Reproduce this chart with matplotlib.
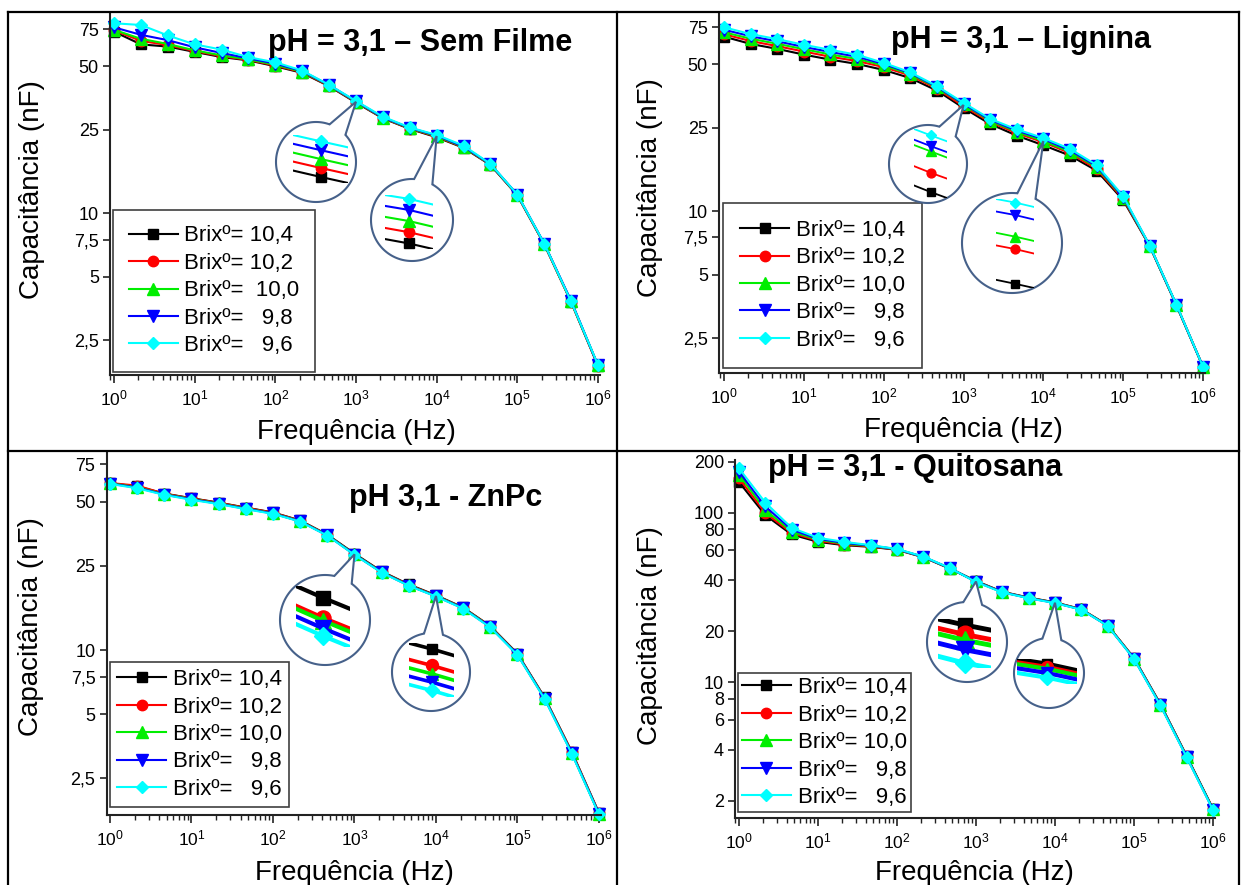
import numpy as np
import matplotlib
matplotlib.use("Agg")
import matplotlib.pyplot as plt
from matplotlib.lines import Line2D
from matplotlib.patches import PathPatch
from matplotlib.path import Path
from matplotlib.ticker import (FixedLocator, FixedFormatter, NullLocator, NullFormatter,
                               LogLocator, LogFormatterMathtext)

plt.rcParams["font.family"] = ["Liberation Sans", "DejaVu Sans"]
plt.rcParams["mathtext.fontset"] = "custom"
plt.rcParams["mathtext.rm"] = "Liberation Sans"
plt.rcParams["mathtext.it"] = "Liberation Sans:italic"
plt.rcParams["mathtext.bf"] = "Liberation Sans:bold"

W, H, DPI = 1243, 885, 100

# ---------------------------------------------------------------- data
FREQ_HZ = [1, 2.154, 4.642, 10, 21.54, 46.42, 100, 215.4, 464.2, 1000,
           2154, 4642, 10000, 21544, 46416, 100000, 215443, 464159, 1000000]

BRIX = ["10,4", "10,2", "10,0", "9,8", "9,6"]

# Capacitance (nF) - pH 3,1 without film
sem_filme_104 = [73.0, 63.5, 62.0, 58.5, 55.3, 53.3, 50.0, 46.5, 40.2, 33.6,
                 28.3, 25.2, 23.0, 20.5, 17.0, 12.2, 7.15, 3.80, 1.89]
sem_filme_102 = [74.0, 66.0, 63.0, 59.0, 55.8, 53.6, 50.4, 46.8, 40.4, 33.75,
                 28.4, 25.3, 23.15, 20.6, 17.05, 12.2, 7.15, 3.80, 1.89]
sem_filme_100 = [74.5, 67.5, 63.8, 59.5, 56.3, 53.9, 50.8, 47.1, 40.6, 33.9,
                 28.5, 25.4, 23.3, 20.7, 17.1, 12.25, 7.18, 3.82, 1.90]
sem_filme_098 = [76.5, 70.5, 66.5, 61.5, 57.8, 54.5, 51.5, 47.4, 40.7, 34.05,
                 28.6, 25.5, 23.45, 20.8, 17.15, 12.3, 7.20, 3.85, 1.90]
sem_filme_096 = [80.0, 78.5, 70.0, 63.5, 60.0, 55.2, 52.2, 47.7, 40.8, 34.2,
                 28.8, 25.6, 23.6, 21.0, 17.2, 12.3, 7.20, 3.82, 1.91]

# Capacitance (nF) - pH 3,1 with lignin film
lignina_104 = [67.7, 62.5, 59.2, 55.6, 52.6, 50.2, 47.0, 43.0, 37.5, 31.0,
               26.0, 22.9, 20.6, 18.4, 15.6, 11.3, 6.81, 3.57, 1.82]
lignina_102 = [69.5, 64.5, 61.0, 57.5, 54.3, 51.8, 48.5, 44.2, 38.3, 31.6,
               26.6, 23.5, 21.31, 18.9, 15.9, 11.45, 6.83, 3.58, 1.82]
lignina_100 = [71.0, 66.2, 62.6, 59.0, 55.7, 53.0, 49.4, 44.9, 38.8, 32.28,
               26.9, 23.9, 21.57, 19.2, 16.2, 11.6, 6.84, 3.58, 1.82]
lignina_098 = [73.0, 68.0, 64.3, 60.5, 57.2, 54.3, 50.2, 45.4, 39.1, 32.45,
               27.2, 24.2, 22.03, 19.5, 16.4, 11.7, 6.85, 3.59, 1.82]
lignina_096 = [75.0, 69.6, 65.9, 61.9, 58.6, 55.5, 50.8, 45.8, 39.4, 32.8,
               27.5, 24.5, 22.3, 19.8, 16.6, 11.8, 6.86, 3.60, 1.82]

# Capacitance (nF) - pH 3,1 with ZnPc film
znpc_104 = [61.0, 59.0, 54.6, 51.9, 49.5, 46.9, 44.5, 40.8, 35.0, 28.5,
            23.5, 20.4, 18.15, 15.9, 13.0, 9.65, 6.00, 3.33, 1.72]
znpc_102 = [61.2, 59.5, 54.5, 51.8, 49.4, 46.8, 44.4, 40.7, 34.9, 28.29,
            23.4, 20.3, 18.05, 15.85, 12.95, 9.60, 5.98, 3.32, 1.71]
znpc_100 = [61.0, 58.5, 54.2, 51.5, 49.1, 46.5, 44.1, 40.5, 34.8, 28.26,
            23.3, 20.2, 18.0, 15.8, 12.9, 9.57, 5.95, 3.29, 1.70]
znpc_098 = [60.8, 58.2, 54.0, 51.3, 48.9, 46.3, 44.0, 40.4, 34.7, 28.18,
            23.25, 20.15, 17.95, 15.75, 12.85, 9.55, 5.93, 3.28, 1.70]
znpc_096 = [60.6, 57.8, 53.8, 51.0, 48.7, 46.1, 43.8, 40.3, 34.6, 28.1,
            23.2, 20.1, 17.9, 15.7, 12.8, 9.50, 5.90, 3.26, 1.69]

# Capacitance (nF) - pH 3,1 with chitosan film
quitosana_104 = [152, 97, 74.5, 67.4, 64.4, 63.0, 60.5, 54.7, 46.9, 39.6,
                 34.2, 31.6, 29.6, 27.0, 21.7, 13.9, 7.45, 3.67, 1.79]
quitosana_102 = [160, 100, 76.0, 68.5, 65.0, 63.4, 60.7, 54.8, 47.0, 39.45,
                 34.1, 31.5, 29.53, 26.95, 21.65, 13.85, 7.40, 3.65, 1.78]
quitosana_100 = [168, 104, 77.5, 69.5, 65.7, 63.8, 60.9, 54.9, 47.1, 39.36,
                 34.05, 31.45, 29.49, 26.9, 21.6, 13.8, 7.38, 3.64, 1.78]
quitosana_098 = [175, 109, 79.5, 70.3, 66.5, 64.1, 61.0, 55.0, 47.2, 39.21,
                 34.0, 31.4, 29.40, 26.85, 21.55, 13.75, 7.35, 3.62, 1.77]
quitosana_096 = [183, 115, 81.5, 71.2, 67.4, 64.4, 61.2, 55.2, 47.3, 39.0,
                 33.9, 31.3, 29.3, 26.8, 21.5, 13.7, 7.30, 3.60, 1.76]

YTICKS_A = [2.5, 5, 7.5, 10, 25, 50, 75]
YTICKLABELS_A = ["2,5", "5", "7,5", "10", "25", "50", "75"]
YTICKS_B = [2, 4, 6, 8, 10, 20, 40, 60, 80, 100, 200]
YTICKLABELS_B = ["2", "4", "6", "8", "10", "20", "40", "60", "80", "100", "200"]

# ---------------------------------------------------------------- styles
SERIES_STYLE = [("#000000", "s", 6.5), ("#ff0000", "o", 7.5),
                ("#00ee00", "^", 8.0), ("#0000ff", "v", 8.0),
                ("#00ffff", "D", 6.5)]

PANELS = [
    dict(series=[sem_filme_104, sem_filme_102, sem_filme_100, sem_filme_098, sem_filme_096],
         labels=["Brixº= 10,4", "Brixº= 10,2", "Brixº=  10,0", "Brixº=   9,8", "Brixº=   9,6"],
         axes_px=(110, 13, 600.4, 375), xexp=(-0.05, 6.03), ylim=(1.71, 89.5),
         yticks=(YTICKS_A, YTICKLABELS_A),
         title="pH = 3,1 – Sem Filme", title_xy=(420, 43),
         legend_xy=(113, 372), legend_pad=0.71,
         xlabel_xy=(356, 432), ylabel_xy=(32, 190),
         zooms=[dict(idx=9, rect=(293, 135, 348, 183), center=(316, 162), r=40, tilt=0.35, lw=1.5, ms=1.0),
                dict(idx=12, rect=(385, 195, 433, 249), center=(412, 220), r=41, tilt=0.22, lw=1.5, ms=1.0)]),
    dict(series=[lignina_104, lignina_102, lignina_100, lignina_098, lignina_096],
         labels=["Brixº= 10,4", "Brixº= 10,2", "Brixº= 10,0", "Brixº=   9,8", "Brixº=   9,6"],
         axes_px=(719, 13, 1205.4, 373), xexp=(-0.063, 6.03), ylim=(1.70, 87.7),
         yticks=(YTICKS_A, YTICKLABELS_A),
         title="pH = 3,1 – Lignina", title_xy=(1021, 40),
         legend_xy=(723, 368), legend_pad=0.78,
         xlabel_xy=(963, 430), ylabel_xy=(650, 188),
         zooms=[dict(idx=9, rect=(914, 129, 947, 198), center=(928, 164), r=39, tilt=0.22, lw=1.3, ms=0.85),
                dict(idx=12, rect=(996, 199, 1034, 288), center=(1012, 243), r=50, tilt=0.10, lw=1.3, ms=0.85)]),
    dict(series=[znpc_104, znpc_102, znpc_100, znpc_098, znpc_096],
         labels=["Brixº= 10,4", "Brixº= 10,2", "Brixº= 10,0", "Brixº=   9,8", "Brixº=   9,6"],
         axes_px=(106.5, 453, 601.4, 815), xexp=(-0.043, 6.03), ylim=(1.68, 84.7),
         yticks=(YTICKS_A, YTICKLABELS_A),
         title="pH 3,1 - ZnPc", title_xy=(446, 498),
         legend_xy=(110, 807), legend_pad=0.32,
         xlabel_xy=(354, 873), ylabel_xy=(31, 627),
         zooms=[dict(idx=9, rect=(296, 586, 350, 647), center=(325, 620), r=45, tilt=0.6, lw=3.0, ms=1.45),
                dict(idx=12, rect=(409, 643, 454, 697), center=(431, 672), r=39, tilt=0.3, lw=2.6, ms=1.15)]),
    dict(series=[quitosana_104, quitosana_102, quitosana_100, quitosana_098, quitosana_096],
         labels=["Brixº= 10,4", "Brixº= 10,2", "Brixº= 10,0", "Brixº=   9,8", "Brixº=   9,6"],
         axes_px=(735, 460, 1215.4, 818), xexp=(-0.05, 6.03), ylim=(1.58, 205),
         yticks=(YTICKS_B, YTICKLABELS_B),
         title="pH = 3,1 - Quitosana", title_xy=(915, 468),
         legend_xy=(738, 812), legend_pad=0.18,
         xlabel_xy=(974, 873), ylabel_xy=(650, 636),
         zooms=[dict(idx=9, rect=(938, 619, 991, 668), center=(967, 642), r=40, tilt=0.3, lw=3.5, ms=1.6),
                dict(idx=12, rect=(1017, 659, 1077, 684), center=(1049, 673), r=35, tilt=0.8, lw=3.0, ms=1.15)]),
]

fig = plt.figure(figsize=(W / DPI, H / DPI), dpi=DPI)


def fx(x):
    return x / W


def fy(y):
    return 1 - y / H


def draw_bubble(ax, series, idx, center, r):
    """Callout circle whose tail points at the data cluster at FREQ_HZ[idx]."""
    vals = np.array([s[idx] for s in series])
    tip_val = 10 ** np.mean(np.log10(vals))
    tx, ty = ax.transData.transform((FREQ_HZ[idx], tip_val))
    cx, cy = center[0], H - center[1]
    theta = np.arctan2(ty - cy, tx - cx)
    d = np.arcsin(9.5 / r)
    ang = np.linspace(theta + d, theta - d + 2 * np.pi, 240)
    verts = np.column_stack([cx + r * np.cos(ang), cy + r * np.sin(ang)])
    verts = np.vstack([verts, [tx, ty], verts[0]])
    codes = [Path.MOVETO] + [Path.LINETO] * (len(verts) - 2) + [Path.CLOSEPOLY]
    patch = PathPatch(Path(verts / [W, H], codes), transform=fig.transFigure,
                      facecolor="white", edgecolor="#46618a", lw=1.5, zorder=5)
    fig.add_artist(patch)


def draw_zoom(series, z):
    """Magnified view of the five curves around FREQ_HZ[idx]."""
    l, t, r, b = z["rect"]
    iax = fig.add_axes([fx(l), fy(b), (r - l) / W, (b - t) / H], zorder=6)
    iax.set_axis_off()
    i = z["idx"]
    logf = np.log10(FREQ_HZ)
    logv = np.log10(np.array(series, dtype=float))
    slope = np.mean((logv[:, i + 1] - logv[:, i - 1]) / (logf[i + 1] - logf[i - 1]))
    spread = logv[:, i].max() - logv[:, i].min()
    w = z["tilt"] * spread / (2 * abs(slope))
    x_lo, x_hi = logf[i] - w, logf[i] + w
    ends = np.array([np.interp([x_lo, x_hi], logf, lv) for lv in logv])
    for (color, marker, ms), vals in zip(SERIES_STYLE, series):
        iax.plot(FREQ_HZ, vals, color=color, lw=z["lw"], solid_capstyle="butt")
        iax.plot([FREQ_HZ[i]], [vals[i]], linestyle="none", marker=marker,
                 ms=ms * z["ms"], color=color, mec=color, clip_on=False)
    iax.set_xscale("log")
    iax.set_yscale("log")
    iax.set_xlim(10 ** x_lo, 10 ** x_hi)
    iax.set_ylim(10 ** ends.min(), 10 ** ends.max())


for p in PANELS:
    l, t, r, b = p["axes_px"]
    ax = fig.add_axes([fx(l), fy(b), (r - l) / W, (b - t) / H])
    for (color, marker, ms), vals, lab in zip(SERIES_STYLE, p["series"], p["labels"]):
        ax.plot(FREQ_HZ, vals, color=color, lw=1.5, marker=marker, ms=ms,
                mec=color, label=lab, clip_on=False)
    ax.set_xscale("log")
    ax.set_yscale("log")
    ax.set_xlim(10 ** p["xexp"][0], 10 ** p["xexp"][1])
    ax.set_ylim(*p["ylim"])
    ax.patch.set_visible(False)
    for s in ("top", "right"):
        ax.spines[s].set_visible(False)
    for s in ("left", "bottom"):
        ax.spines[s].set_linewidth(1.5)
        ax.spines[s].set_color("#222222")

    ax.xaxis.set_major_locator(LogLocator(base=10, numticks=20))
    ax.xaxis.set_minor_locator(LogLocator(base=10, subs=np.arange(2, 10), numticks=20))
    ax.xaxis.set_major_formatter(LogFormatterMathtext())
    ax.xaxis.set_minor_formatter(NullFormatter())
    ticks, ticklabels = p["yticks"]
    ax.yaxis.set_major_locator(FixedLocator(ticks))
    ax.yaxis.set_major_formatter(FixedFormatter(ticklabels))
    ax.yaxis.set_minor_locator(NullLocator())
    ax.tick_params(axis="x", which="major", direction="out", length=6, width=1.2,
                   labelsize=12.5, pad=4, color="#222222")
    ax.tick_params(axis="x", which="minor", direction="out", length=3.5, width=1.0,
                   color="#222222")
    ax.tick_params(axis="y", which="major", direction="out", length=5, width=1.2,
                   labelsize=13, pad=3, color="#222222")

    ax.set_xlabel("Frequência (Hz)", fontsize=20, va="center")
    ax.xaxis.set_label_coords(fx(p["xlabel_xy"][0]), fy(p["xlabel_xy"][1]),
                              transform=fig.transFigure)
    ax.set_ylabel("Capacitância (nF)", fontsize=20, va="center")
    ax.yaxis.set_label_coords(fx(p["ylabel_xy"][0]), fy(p["ylabel_xy"][1]),
                              transform=fig.transFigure)

    leg = ax.legend(loc="lower left", bbox_to_anchor=(fx(p["legend_xy"][0]), fy(p["legend_xy"][1])),
                    bbox_transform=fig.transFigure, borderaxespad=0, fancybox=False,
                    framealpha=1, edgecolor="#404040", fontsize=16, handlelength=2.2,
                    handletextpad=0.3, labelspacing=0.29, borderpad=p["legend_pad"])
    leg.get_frame().set_linewidth(1.2)

    fig.text(fx(p["title_xy"][0]), fy(p["title_xy"][1]), p["title"], ha="center",
             va="center", fontsize=22, fontweight="bold")

    for z in p["zooms"]:
        draw_bubble(ax, p["series"], z["idx"], z["center"], z["r"])
        draw_zoom(p["series"], z)

# panel frame lines
frame_kw = dict(transform=fig.transFigure, color="black", lw=1.6, zorder=10)
fig.add_artist(Line2D([fx(8), fx(1239)], [fy(12), fy(12)], **frame_kw))
fig.add_artist(Line2D([fx(8), fx(1239)], [fy(451), fy(451)], **frame_kw))
fig.add_artist(Line2D([fx(8), fx(8)], [fy(12), fy(885)], **frame_kw))
fig.add_artist(Line2D([fx(1239), fx(1239)], [fy(12), fy(885)], **frame_kw))
fig.add_artist(Line2D([fx(617), fx(617)], [fy(12), fy(885)], **frame_kw))

fig.savefig("out.png", dpi=DPI)
